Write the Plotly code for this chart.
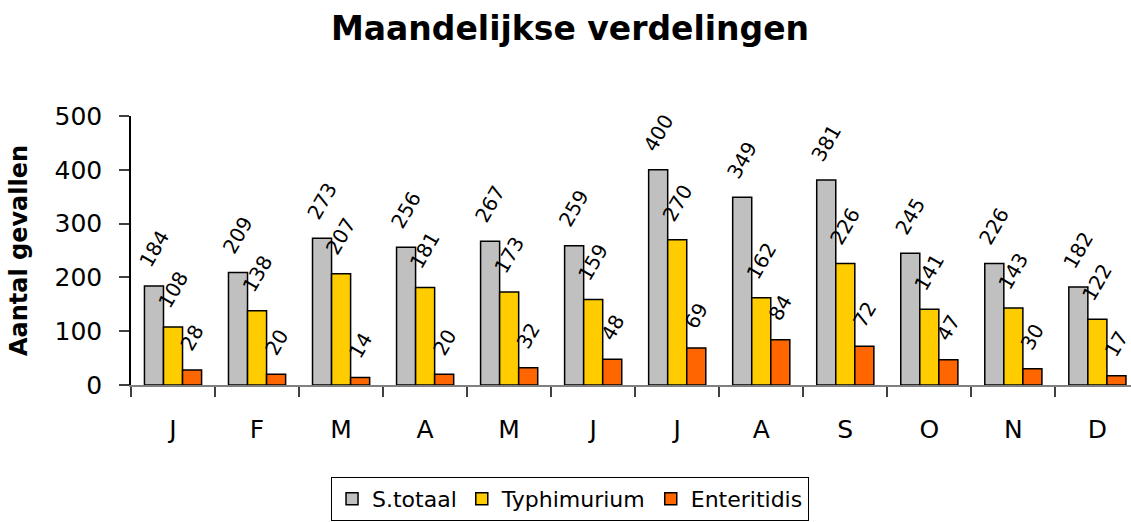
import plotly.graph_objects as go

months = ["J", "F", "M", "A", "M", "J", "J", "A", "S", "O", "N", "D"]
s_totaal = [184, 209, 273, 256, 267, 259, 400, 349, 381, 245, 226, 182]
typhimurium = [108, 138, 207, 181, 173, 159, 270, 162, 226, 141, 143, 122]
enteritidis = [28, 20, 14, 20, 32, 48, 69, 84, 72, 47, 30, 17]
y_ticks = [0, 100, 200, 300, 400, 500]

series = [
    ("S.totaal", s_totaal, "#C0C0C0"),
    ("Typhimurium", typhimurium, "#FFCC00"),
    ("Enteritidis", enteritidis, "#FF6600"),
]

x_idx = list(range(len(months)))
FONT = "DejaVu Sans"
BARGAP = 0.32
bar_w = (1 - BARGAP) / len(series)

fig = go.Figure()
annotations = []
for k, (name, vals, color) in enumerate(series):
    fig.add_trace(go.Bar(
        name=name, x=x_idx, y=vals,
        marker=dict(color=color, line=dict(color="black", width=1.5)),
    ))
    off = (k - (len(series) - 1) / 2) * bar_w
    for i, v in zip(x_idx, vals):
        annotations.append(dict(
            x=i + off, y=v, xref="x", yref="y", text=str(v),
            showarrow=False, textangle=-60, xanchor="center", yanchor="bottom",
            yshift=12, font=dict(family=FONT, size=20, color="black"),
        ))

fig.update_layout(
    width=1131, height=522,
    margin=dict(l=131, r=0, t=116, b=137),
    paper_bgcolor="white", plot_bgcolor="white",
    barmode="group", bargap=BARGAP, bargroupgap=0,
    font=dict(family=FONT, color="black"),
    annotations=annotations,
    title=dict(text="<b>Maandelijkse verdelingen</b>", x=0.504, xanchor="center",
               xref="container", y=1 - 28 / 522, yanchor="middle",
               font=dict(family=FONT, size=33, color="black")),
    showlegend=True,
    legend=dict(orientation="h", xref="container", x=0.504, xanchor="center",
                yref="container", y=(522 - 477) / 522, yanchor="top",
                bordercolor="black", borderwidth=1,
                font=dict(family=FONT, size=22, color="black"),
                itemwidth=30, tracegroupgap=0),
    xaxis=dict(
        tickmode="array", tickvals=x_idx, ticktext=months,
        range=[-0.5, 11.4], showgrid=False, zeroline=False, automargin=False,
        showline=True, linecolor="#808080", linewidth=1.5,
        ticks="",
        minor=dict(tickmode="array", tickvals=[i - 0.5 for i in x_idx],
                   ticks="outside", ticklen=10, tickcolor="#404040", tickwidth=1.5,
                   showgrid=False),
        tickfont=dict(family=FONT, size=25, color="black"),
        ticklabelstandoff=21,
    ),
    yaxis=dict(
        range=[0, 500], tickvals=y_ticks, showgrid=False, zeroline=False,
        automargin=False,
        showline=True, linecolor="black", linewidth=1.5,
        ticks="outside", ticklen=10, tickcolor="#404040", tickwidth=1.5,
        tickfont=dict(family=FONT, size=25, color="black"),
        ticklabelstandoff=12,
        title=dict(text="<b>Aantal gevallen</b>", standoff=20,
                   font=dict(family=FONT, size=24, color="black")),
    ),
)

fig.write_html("out.html", config={"displayModeBar": False},
               post_script="document.body.style.margin='0';")
